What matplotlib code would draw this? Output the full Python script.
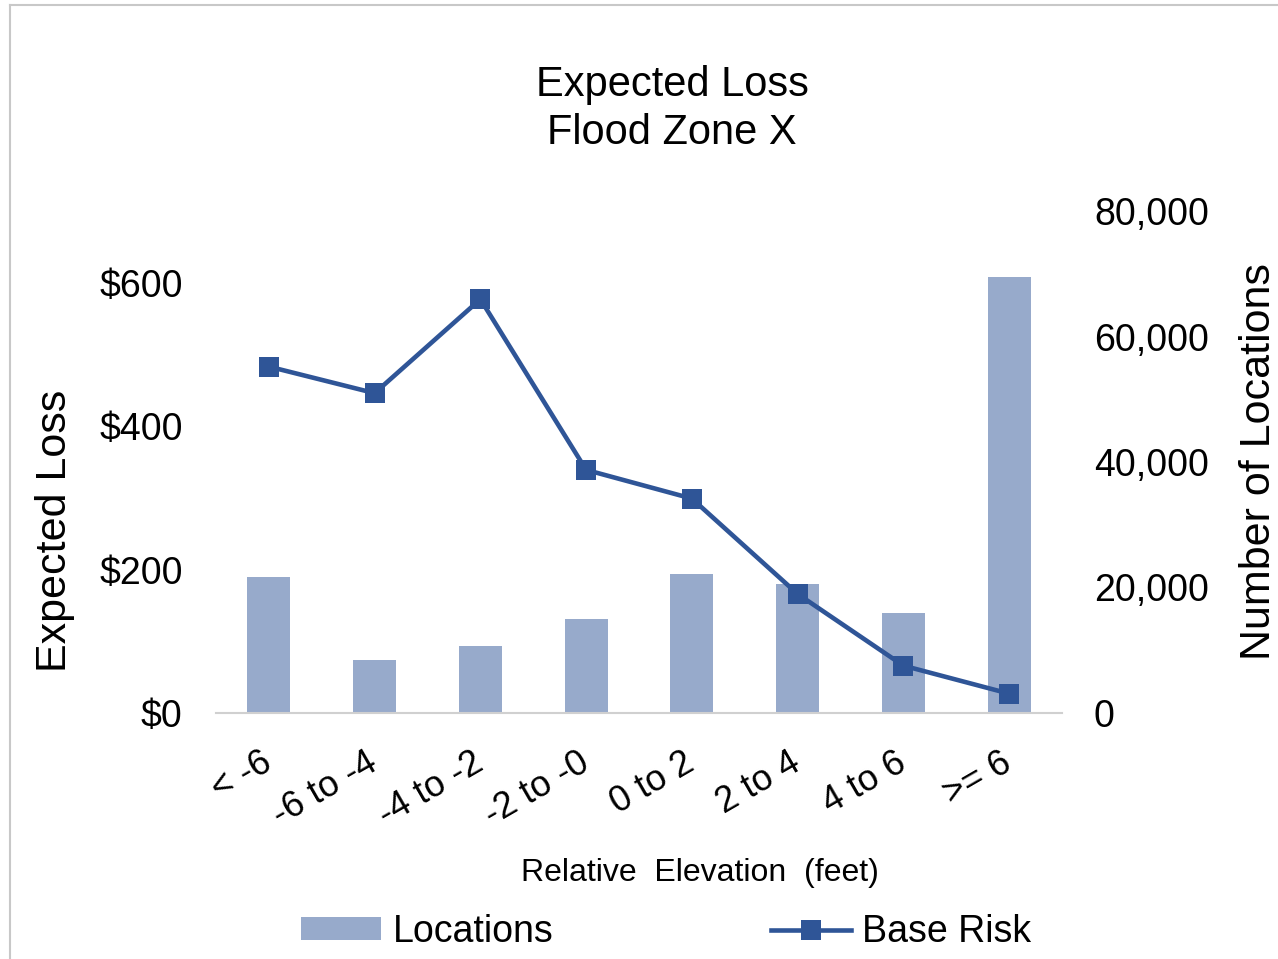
import matplotlib
matplotlib.use("Agg")
import matplotlib.pyplot as plt
from matplotlib.lines import Line2D
from matplotlib.patches import Patch
from matplotlib.ticker import FuncFormatter
import numpy as np

plt.rcParams['font.family'] = ['Liberation Sans', 'DejaVu Sans']

categories = ["< -6", "-6 to -4", "-4 to -2", "-2 to -0", "0 to 2", "2 to 4", "4 to 6", ">= 6"]
locations = [21700, 8500, 10700, 15000, 22150, 20550, 16000, 69500]
base_risk = [483, 446, 577, 339, 299, 166, 66, 27]
left_ticks = [0, 200, 400, 600]
right_ticks = [0, 20000, 40000, 60000, 80000]

BAR_C = "#97AACB"
LINE_C = "#2F5597"

W, H = 1278, 959
fig = plt.figure(figsize=(W / 100, H / 100), dpi=100)

ax = fig.add_axes([216 / W, 1 - 713 / H, (1062 - 216) / W, (713 - 211) / H])
ax2 = ax.twinx()

x = np.arange(len(categories))
# bars on the secondary (right) axis, drawn behind the line
ax2.bar(x, locations, width=0.405, color=BAR_C, zorder=1)
ax2.set_ylim(0, 80000)
ax2.set_yticks(right_ticks)
ax2.yaxis.set_major_formatter(FuncFormatter(lambda v, p: f"{int(v):,}"))

# line on primary axis; put primary axis on top of ax2
ax.set_zorder(ax2.get_zorder() + 1)
ax.patch.set_visible(False)
ax.plot(x, base_risk, color=LINE_C, lw=3.3, marker='s', markersize=14,
        markeredgewidth=0, zorder=3)
ax.set_ylim(0, 700)
ax.set_yticks(left_ticks)
ax.yaxis.set_major_formatter(FuncFormatter(lambda v, p: f"${int(v)}"))
ax.set_xlim(-0.5, len(categories) - 0.5)
ax.set_xticks(x)
ax.set_xticklabels(categories, rotation=30, ha='right', va='center',
                   rotation_mode='anchor', fontsize=26)

for a in (ax, ax2):
    for s in a.spines.values():
        s.set_visible(False)
ax.spines['bottom'].set_visible(True)
ax.spines['bottom'].set_color('#D0D0D0')
ax.spines['bottom'].set_linewidth(1.5)

ax.tick_params(axis='x', length=0, pad=34)
ax.tick_params(axis='y', length=0, pad=24, labelsize=27)
ax2.tick_params(axis='y', length=0, pad=23, labelsize=27)

# titles
fig.text(672 / W, 1 - 85 / H, "Expected Loss", ha='center', va='center', fontsize=30)
fig.text(672 / W, 1 - 133 / H, "Flood Zone X", ha='center', va='center', fontsize=30)
fig.text(55 / W, 1 - 531 / H, "Expected Loss", rotation=90, ha='center', va='center', fontsize=31)
fig.text(1259 / W, 1 - 462 / H, "Number of Locations", rotation=90, ha='center', va='center', fontsize=31)
fig.text(700 / W, 1 - 873 / H, "Relative  Elevation  (feet)", ha='center', va='center', fontsize=23)

# legend
handles = [Patch(facecolor=BAR_C, edgecolor='none'),
           Line2D([0], [0], color=LINE_C, lw=3.3, marker='s', markersize=14, markeredgewidth=0)]
fig.legend(handles, ["Locations", "Base Risk"], loc='center',
           bbox_to_anchor=(666 / W, 1 - 932 / H), ncol=2, frameon=False,
           fontsize=27, handlelength=2.15, handleheight=0.55, handletextpad=0.3,
           columnspacing=5.8, borderpad=0, borderaxespad=0)

# light gray outer border (left and top)
fig.add_artist(Line2D([10 / W, 10 / W], [0, 1 - 5 / H], transform=fig.transFigure,
                      color='#C8C8C8', lw=1.5))
fig.add_artist(Line2D([10 / W, 1], [1 - 5 / H, 1 - 5 / H], transform=fig.transFigure,
                      color='#C8C8C8', lw=1.5))

fig.savefig("out.png", dpi=100)
